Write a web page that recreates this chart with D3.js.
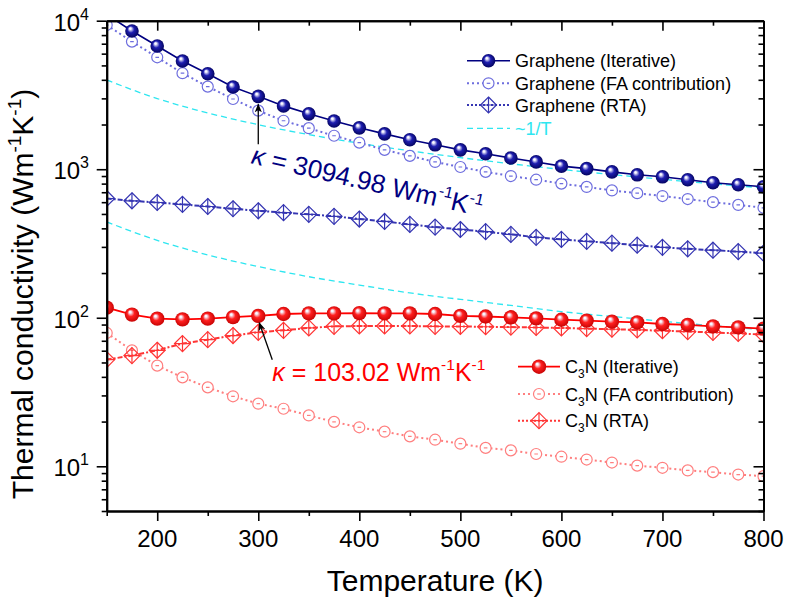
<!DOCTYPE html>
<html><head><meta charset="utf-8">
<script src="https://cdn.jsdelivr.net/npm/d3@7"></script>
<style>
body{margin:0;background:#fff}
text{font-family:"Liberation Sans",Arial,sans-serif}
</style>
</head><body>
<svg id="c" width="789" height="602"></svg>
<script>
// ---------------- data ----------------
const temps = [150,175,200,225,250,275,300,325,350,375,400,425,450,475,500,525,550,575,600,625,650,675,700,725,750,775,800];
const grapheneIterative = [11000,8530,6760,5350,4390,3580,3094.98,2670,2360,2110,1900,1730,1580,1460,1350,1270,1190,1120,1050,1010,960,917,889,849,811,786,762];
const grapheneFA = [9350,7230,5670,4430,3600,2970,2480,2120,1890,1680,1510,1350,1230,1120,1035,960,900,850,800,760,720,690,660,630,600,575,550];
const grapheneRTA = [635,613,597,580,561,542,525,510,497,482,462,445,425,408,393,380,364,348,337,327,318,308,298,291,285,279,272];
const c3nIterative = [117,105,98.6,97.5,98.6,101,103.02,106,107,107,107.5,107,107,106,103,102,100.7,99,97,95.7,94.2,93,90.8,89.5,87.5,86.1,84.5];
const c3nFA = [79,60.3,47.6,39.7,34,29.6,26.4,24.4,22,19.9,18.3,17.1,15.9,15.1,14.2,13.3,12.8,12.1,11.6,11.1,10.6,10.1,9.77,9.38,9.13,8.8,8.58];
const c3nRTA = [52.3,55.6,60.4,67,71.2,75.9,79.8,82.3,85.4,87.5,88,88,88,87.5,87.3,87,86.5,86,85.3,84.5,83.7,82.8,81.8,80.7,79.6,78.4,77];
const fitTemps = [150,200,250,300,350,400,450,500,550,600,650,700,750,800];
const grapheneInvT = [3990,2990,2394,1995,1710,1496,1330,1197,1088,997,921,855,798,748];
const c3nInvT = [442,332,265,221,189,166,147,133,121,110,102,94.7,88.4,83];
const xMajorTicks = [200,300,400,500,600,700,800];
const xMinorTicks = [150,250,350,450,550,650,750];
const yMajorTicks = [10,100,1000,10000];
const yMajorLabels = [["10","1"],["10","2"],["10","3"],["10","4"]];
const yMinorTicks = [5,6,7,8,9,20,30,40,50,60,70,80,90,200,300,400,500,600,700,800,900,2000,3000,4000,5000,6000,7000,8000,9000];
const grapheneLegend = ["Graphene (Iterative)","Graphene (FA contribution)","Graphene (RTA)","~1/T"];
const c3nLegend = ["(Iterative)","(FA contribution)","(RTA)"];

// ---------------- setup ----------------
const svg = d3.select('#c');
const L = 106.7, R = 763.5, T = 20.7, B = 511;
const x = d3.scaleLinear().domain([150,800]).range([L,R]);
const y = d3.scaleLog().domain([5,1e4]).range([B,T]);

const NAVY = "#000080", GFA = "#6e6ede", GRTA = "#3535b2", CYAN = "#2ee6f0";
const RED = "#ff0000", CFA = "#ff7f7f", CRTA = "#ff3535";

const defs = svg.append('defs');
function ballGrad(id, mid, dark){
  const g = defs.append('radialGradient').attr('id',id)
    .attr('cx','50%').attr('cy','50%').attr('r','55%').attr('fx','36%').attr('fy','30%');
  g.append('stop').attr('offset','0%').attr('stop-color','#ffffff');
  g.append('stop').attr('offset','12%').attr('stop-color','#f4f4ff');
  g.append('stop').attr('offset','45%').attr('stop-color',mid);
  g.append('stop').attr('offset','100%').attr('stop-color',dark);
}
ballGrad('gNavy','#1e1eb0','#000055');
ballGrad('gRed','#ff2020','#c00000');
defs.append('clipPath').attr('id','clip').append('rect')
  .attr('x',L).attr('y',T).attr('width',R-L).attr('height',B-T);
defs.append('marker').attr('id','arrow').attr('viewBox','0 0 10 10')
  .attr('refX',9).attr('refY',5).attr('markerWidth',9).attr('markerHeight',9)
  .attr('markerUnits','userSpaceOnUse').attr('orient','auto')
  .append('path').attr('d','M0,1 L10,5 L0,9 L3,5 Z').attr('fill','#000');

// ---------------- marker helpers ----------------
function ball(g, cx, cy, r, grad){
  g.append('circle').attr('cx',cx).attr('cy',cy).attr('r',r).attr('fill',`url(#${grad})`);
}
function openCircle(g, cx, cy, r, color){
  g.append('circle').attr('cx',cx).attr('cy',cy).attr('r',r).attr('fill','#fff')
    .attr('stroke',color).attr('stroke-width',1.2);
  g.append('line').attr('x1',cx-1.8).attr('x2',cx+1.8).attr('y1',cy).attr('y2',cy)
    .attr('stroke',color).attr('stroke-width',1.2);
}
function crossDiamond(g, cx, cy, s, color){
  g.append('path').attr('d',`M${cx},${cy-s}L${cx+s},${cy}L${cx},${cy+s}L${cx-s},${cy}Z`)
    .attr('fill','none').attr('stroke',color).attr('stroke-width',1.2);
  g.append('path').attr('d',`M${cx},${cy-s}V${cy+s}M${cx-s},${cy}H${cx+s}`)
    .attr('stroke',color).attr('stroke-width',1.2);
}

// ---------------- plot content ----------------
const plot = svg.append('g').attr('clip-path','url(#clip)');
const line = d3.line().x(d=>x(d[0])).y(d=>y(d[1]));
const curve = d3.line().x(d=>x(d[0])).y(d=>y(d[1])).curve(d3.curveMonotoneX);
const zip = (xs, ys) => xs.map((t,i)=>[t, ys[i]]);

function series(vals, color, width, dash, markerFn){
  const pts = zip(temps, vals);
  plot.append('path').datum(pts).attr('d',line).attr('fill','none')
    .attr('stroke',color).attr('stroke-width',width).attr('stroke-dasharray',dash);
  const mg = plot.append('g');
  pts.forEach(p=>markerFn(mg, x(p[0]), y(p[1])));
}
// fit lines
plot.append('path').datum(zip(fitTemps, grapheneInvT)).attr('d',curve).attr('fill','none')
  .attr('stroke',CYAN).attr('stroke-width',1.3).attr('stroke-dasharray','6,4');
plot.append('path').datum(zip(fitTemps, c3nInvT)).attr('d',curve).attr('fill','none')
  .attr('stroke',CYAN).attr('stroke-width',1.3).attr('stroke-dasharray','6,4');

series(c3nFA, CFA, 2, '2,3', (g,a,b)=>openCircle(g,a,b,5.5,CFA));
series(c3nRTA, CRTA, 2, '5,2,2,2', (g,a,b)=>crossDiamond(g,a,b,8,CRTA));
series(c3nIterative, RED, 1.8, null, (g,a,b)=>ball(g,a,b,7.2,'gRed'));
series(grapheneRTA, GRTA, 2, '5,2,2,2', (g,a,b)=>crossDiamond(g,a,b,8,GRTA));
series(grapheneFA, GFA, 2, '2,3', (g,a,b)=>openCircle(g,a,b,5.5,GFA));
series(grapheneIterative, NAVY, 1.6, null, (g,a,b)=>ball(g,a,b,6.8,'gNavy'));

// ---------------- axes ----------------
const ax = svg.append('g');
function styleAxis(g){
  g.select('.domain').attr('stroke','#000').attr('stroke-width',2);
  g.selectAll('.tick line').attr('stroke','#000').attr('stroke-width',1.6);
  g.selectAll('.tick text').remove();
}
ax.append('g').attr('transform',`translate(0,${B})`)
  .call(d3.axisBottom(x).tickValues(xMajorTicks).tickSize(10).tickSizeOuter(0)).call(styleAxis);
ax.append('g').attr('transform',`translate(0,${B})`)
  .call(d3.axisBottom(x).tickValues(xMinorTicks).tickSize(5).tickSizeOuter(0)).call(styleAxis);
ax.append('g').attr('transform',`translate(0,${T})`)
  .call(d3.axisTop(x).tickValues(xMajorTicks).tickSize(-10).tickSizeOuter(0)).call(styleAxis);
ax.append('g').attr('transform',`translate(0,${T})`)
  .call(d3.axisTop(x).tickValues(xMinorTicks).tickSize(-5).tickSizeOuter(0)).call(styleAxis);
ax.append('g').attr('transform',`translate(${L},0)`)
  .call(d3.axisLeft(y).tickValues(yMajorTicks).tickSize(10).tickSizeOuter(0)).call(styleAxis);
ax.append('g').attr('transform',`translate(${L},0)`)
  .call(d3.axisLeft(y).tickValues(yMinorTicks).tickSize(5).tickSizeOuter(0)).call(styleAxis);
ax.append('g').attr('transform',`translate(${R},0)`)
  .call(d3.axisRight(y).tickValues(yMajorTicks).tickSize(-10).tickSizeOuter(0)).call(styleAxis);
ax.append('g').attr('transform',`translate(${R},0)`)
  .call(d3.axisRight(y).tickValues(yMinorTicks).tickSize(-5).tickSizeOuter(0)).call(styleAxis);

// tick labels
xMajorTicks.forEach(v=>{
  svg.append('text').attr('x',x(v)).attr('y',B+36).attr('text-anchor','middle')
    .attr('font-size',24).text(v);
});
yMajorTicks.forEach((v,i)=>{
  const t = svg.append('text').attr('x',89).attr('y',y(v)+10).attr('text-anchor','end').attr('font-size',24);
  t.append('tspan').text(yMajorLabels[i][0]);
  t.append('tspan').attr('font-size',16).attr('dy',-11).text(yMajorLabels[i][1]);
});

// axis titles
svg.append('text').attr('x',(L+R)/2).attr('y',591).attr('text-anchor','middle')
  .attr('font-size',30).text('Temperature (K)');
const yt = svg.append('text').attr('transform','translate(33,294) rotate(-90)')
  .attr('text-anchor','middle').attr('font-size',30);
yt.append('tspan').text('Thermal conductivity (Wm');
yt.append('tspan').attr('font-size',19).attr('dy',-12).text('-1');
yt.append('tspan').attr('dy',12).text('K');
yt.append('tspan').attr('font-size',19).attr('dy',-12).text('-1');
yt.append('tspan').attr('dy',12).text(')');

// ---------------- annotations ----------------
function kappaText(g, val, color, size){
  const t = g.append('text').attr('fill',color).attr('font-size',size);
  t.append('tspan').attr('font-style','italic').text('κ');
  t.append('tspan').text(` = ${val} Wm`);
  t.append('tspan').attr('font-size',size*0.62).attr('dy',-size*0.42).text('-1');
  t.append('tspan').attr('dy',size*0.42).text('K');
  t.append('tspan').attr('font-size',size*0.62).attr('dy',-size*0.42).text('-1');
  return t;
}
const gx = x(300), gy = y(3094.98);
svg.append('line').attr('x1',gx).attr('y1',gy+48).attr('x2',gx).attr('y2',gy+8)
  .attr('stroke','#000').attr('stroke-width',1.3).attr('marker-end','url(#arrow)');
kappaText(svg.append('g').attr('transform',`translate(${gx-8},${gy+67}) rotate(13)`),'3094.98',NAVY,26);

const cx3 = x(300), cy3 = y(103.02);
svg.append('line').attr('x1',cx3+14).attr('y1',cy3+44).attr('x2',cx3+1).attr('y2',cy3+7)
  .attr('stroke','#000').attr('stroke-width',1.3).attr('marker-end','url(#arrow)');
kappaText(svg.append('g').attr('transform',`translate(${cx3+14},${cy3+65})`),'103.02',RED,25);

// ---------------- legends ----------------
const lg = svg.append('g');
const gRows = [60.7,83.3,105,128.3];
const gx0 = 467, gx1 = 510;
function legLine(g, yy, x0, x1, color, w, dash){
  g.append('line').attr('x1',x0).attr('x2',x1).attr('y1',yy).attr('y2',yy)
    .attr('stroke',color).attr('stroke-width',w).attr('stroke-dasharray',dash);
}
legLine(lg,gRows[0],gx0,gx1,NAVY,1.6,null); ball(lg,(gx0+gx1)/2,gRows[0],6.8,'gNavy');
legLine(lg,gRows[1],gx0,gx1,GFA,2,'2,3'); openCircle(lg,(gx0+gx1)/2,gRows[1],5.5,GFA);
legLine(lg,gRows[2],gx0,gx1,GRTA,2,'2,2'); crossDiamond(lg,(gx0+gx1)/2,gRows[2],8,GRTA);
legLine(lg,gRows[3],gx0,gx1,CYAN,1.3,'6,4');
grapheneLegend.forEach((s,i)=>{
  lg.append('text').attr('x',515).attr('y',gRows[i]+6.5).attr('font-size',18)
    .attr('fill', i===3 ? CYAN : '#000').text(s);
});
const cRows = [366.7,394,420.7];
const cx0 = 518, cx1 = 560;
legLine(lg,cRows[0],cx0,cx1,RED,1.8,null); ball(lg,(cx0+cx1)/2,cRows[0],7.2,'gRed');
legLine(lg,cRows[1],cx0,cx1,CFA,2,'2,3'); openCircle(lg,(cx0+cx1)/2,cRows[1],5.5,CFA);
legLine(lg,cRows[2],cx0,cx1,CRTA,2,'2,2'); crossDiamond(lg,(cx0+cx1)/2,cRows[2],8,CRTA);
c3nLegend.forEach((s,i)=>{
  const t = lg.append('text').attr('x',565).attr('y',cRows[i]+6.5).attr('font-size',18);
  t.append('tspan').text('C');
  t.append('tspan').attr('font-size',12).attr('dy',5).text('3');
  t.append('tspan').attr('dy',-5).text('N ' + s);
});
</script>
</body></html>
